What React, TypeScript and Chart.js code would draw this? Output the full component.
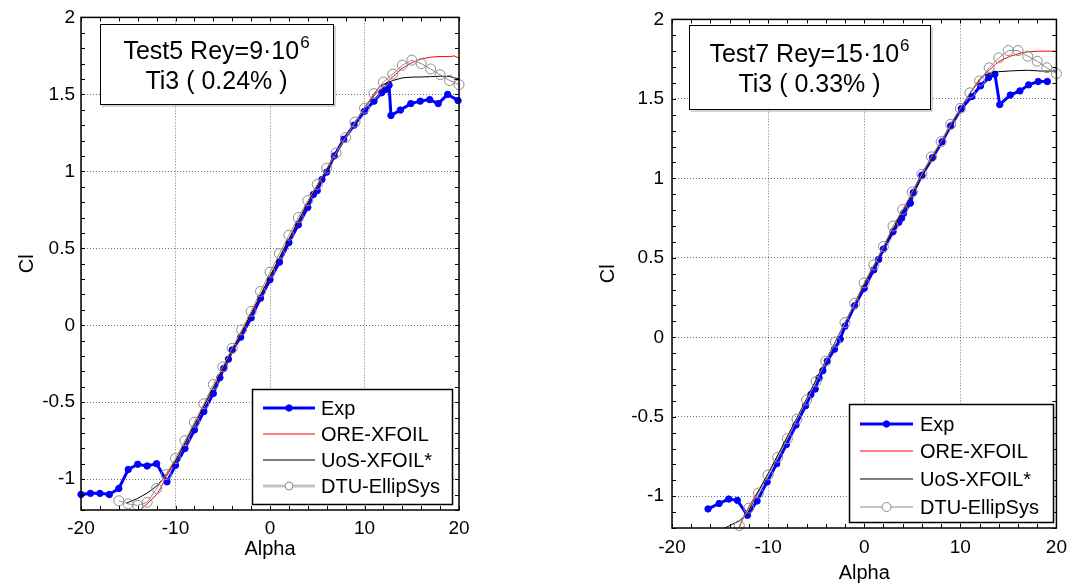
import React, { useEffect, useRef } from 'react';
import { Chart, registerables } from 'chart.js';

Chart.register(...registerables);

const FONT = '"Liberation Sans", Arial, Helvetica, sans-serif';

// ---------- Data: Test5 (Rey = 9e6, Ti3 0.24%) ----------
const t5ExpAlpha = [-20, -19, -18, -17, -16, -15, -14, -13, -12, -10.9, -10, -9, -8, -7, -6, -5.3, -4.9, -4.4, -4, -3.1, -2, -1, 0, 1, 2, 3, 4, 4.6, 5, 5.5, 6, 6.8, 7.8, 8.9, 10, 11, 11.8, 12.2, 12.6, 12.8, 13.8, 14.9, 15.9, 16.9, 17.8, 18.8, 19.9];
const t5ExpCl = [-1.099, -1.092, -1.092, -1.099, -1.06, -0.937, -0.903, -0.914, -0.899, -1.017, -0.91, -0.8, -0.68, -0.56, -0.443, -0.34, -0.28, -0.22, -0.16, -0.077, 0.048, 0.176, 0.296, 0.41, 0.537, 0.653, 0.766, 0.85, 0.875, 0.947, 0.995, 1.1, 1.208, 1.3, 1.39, 1.456, 1.51, 1.53, 1.56, 1.363, 1.398, 1.44, 1.456, 1.466, 1.44, 1.5, 1.46];

const t5OreAlpha = [-14, -13, -12, -11.5, -11, -10, -9, -8, -7, -6, -5, -4, -3, -2, -1, 0, 1, 2, 3, 4, 5, 6, 7, 8, 9, 10, 11, 12, 13, 14, 15, 16, 17, 18, 19, 19.5, 20];
const t5OreCl = [-1.215, -1.16, -1.1, -1.05, -0.985, -0.885, -0.77, -0.65, -0.53, -0.41, -0.29, -0.17, -0.05, 0.07, 0.19, 0.315, 0.435, 0.555, 0.675, 0.79, 0.9, 1.005, 1.11, 1.215, 1.315, 1.41, 1.49, 1.555, 1.615, 1.67, 1.705, 1.73, 1.742, 1.746, 1.745, 1.75, 1.735];

const t5UosAlpha = [-15.2, -14, -13, -12, -11.3, -10, -9, -8, -7, -6, -5, -4, -3, -2, -1, 0, 1, 2, 3, 4, 5, 6, 7, 8, 9, 10, 11, 11.6, 12, 13, 14, 15, 16, 17, 18, 19, 20];
const t5UosCl = [-1.155, -1.125, -1.09, -1.045, -0.996, -0.88, -0.765, -0.645, -0.525, -0.405, -0.285, -0.165, -0.045, 0.075, 0.195, 0.32, 0.44, 0.56, 0.68, 0.795, 0.905, 1.01, 1.115, 1.22, 1.32, 1.415, 1.5, 1.55, 1.565, 1.59, 1.607, 1.612, 1.613, 1.615, 1.618, 1.616, 1.6];

const t5DtuAlpha = [-16, -15, -14, -13, -12, -11, -10, -9, -8, -7, -6, -5, -4, -3, -2, -1, 0, 1, 2, 3, 4, 5, 6, 7, 8, 9, 10, 11, 12, 13, 14, 15, 16, 17, 18, 19, 20];
const t5DtuCl = [-1.14, -1.16, -1.17, -1.15, -1.06, -0.97, -0.865, -0.75, -0.63, -0.51, -0.385, -0.27, -0.15, -0.03, 0.09, 0.22, 0.345, 0.465, 0.585, 0.7, 0.81, 0.915, 1.02, 1.12, 1.22, 1.32, 1.41, 1.505, 1.58, 1.632, 1.69, 1.722, 1.7, 1.665, 1.628, 1.59, 1.563];

// ---------- Data: Test7 (Rey = 15e6, Ti3 0.33%) ----------
const t7ExpAlpha = [-16.25, -15.1, -14.1, -13.2, -12.15, -11.15, -10.1, -9.1, -8.1, -7.1, -6.1, -5.55, -5.1, -4.7, -4.3, -3.85, -3.1, -2.5, -2, -1, 0, 1, 1.5, 2, 3, 3.6, 3.9, 4.1, 4.8, 5.1, 6, 7.1, 8.1, 9, 10.1, 11.2, 12.1, 12.95, 13.6, 14.1, 15.2, 16.2, 17.1, 18.1, 19.05];
const t7ExpCl = [-1.08, -1.046, -1.018, -1.026, -1.12, -1.03, -0.91, -0.795, -0.675, -0.552, -0.431, -0.36, -0.326, -0.256, -0.21, -0.15, -0.075, -0.012, 0.07, 0.198, 0.308, 0.424, 0.49, 0.555, 0.664, 0.723, 0.75, 0.78, 0.844, 0.91, 1.02, 1.13, 1.23, 1.33, 1.438, 1.515, 1.582, 1.634, 1.655, 1.464, 1.524, 1.55, 1.588, 1.609, 1.609];

const t7OreAlpha = [-13.2, -12.5, -12, -11, -10, -9, -8, -7, -6, -5, -4, -3, -2, -1, 0, 1, 2, 3, 4, 5, 6, 7, 8, 9, 10, 11, 12, 13, 13.65, 14, 15.2, 16.4, 17, 18, 19, 20];
const t7OreCl = [-1.225, -1.125, -1.065, -0.965, -0.86, -0.745, -0.628, -0.51, -0.39, -0.27, -0.15, -0.03, 0.09, 0.21, 0.33, 0.447, 0.563, 0.678, 0.79, 0.9, 1.01, 1.12, 1.225, 1.33, 1.435, 1.535, 1.625, 1.68, 1.717, 1.735, 1.768, 1.79, 1.795, 1.8, 1.8, 1.8];

const t7UosAlpha = [-15, -14, -13, -12.2, -11, -10, -9, -8, -7, -6, -5, -4, -3, -2, -1, 0, 1, 2, 3, 4, 5, 6, 7, 8, 9, 10, 11, 12, 12.5, 13.6, 15, 16, 17, 18.4, 20];
const t7UosCl = [-1.215, -1.185, -1.155, -1.115, -0.968, -0.858, -0.742, -0.625, -0.507, -0.387, -0.267, -0.147, -0.027, 0.093, 0.213, 0.335, 0.45, 0.566, 0.68, 0.793, 0.903, 1.013, 1.122, 1.228, 1.333, 1.437, 1.535, 1.615, 1.65, 1.669, 1.675, 1.678, 1.68, 1.675, 1.675];

const t7DtuAlpha = [-13, -12, -11, -10, -9, -8, -7, -6, -5, -4, -3, -2, -1, 0, 1, 2, 3, 4, 5, 6, 7, 8, 9, 10, 11, 12, 13, 14, 15, 16, 17, 18, 19, 20];
const t7DtuCl = [-1.185, -1.075, -0.98, -0.866, -0.755, -0.638, -0.515, -0.395, -0.278, -0.15, -0.03, 0.093, 0.214, 0.343, 0.455, 0.571, 0.7, 0.804, 0.914, 1.026, 1.135, 1.231, 1.34, 1.44, 1.538, 1.613, 1.696, 1.758, 1.804, 1.804, 1.769, 1.737, 1.696, 1.659];

// ---------- Axes ----------
const xTicks = [-20, -10, 0, 10, 20];
const yTicks = [-1, -0.5, 0, 0.5, 1, 1.5, 2];
const X_MIN = -20, X_MAX = 20, X_MINOR = 2;
const Y_MIN = -1.2, Y_MAX = 2, Y_MINOR = 0.1;
const seriesNames = ['Exp', 'ORE-XFOIL', 'UoS-XFOIL*', 'DTU-EllipSys'];

const zip = (a: number[], c: number[]) => a.map((x, i) => ({ x, y: c[i] }));

type Cfg = {
  left: number; width: number; height: number;
  pad: { left: number; right: number; top: number; bottom: number };
  yW: number; xH: number; yTitlePad: number; xTitlePad: number; xTickPad: number; yTickPad: number;
  series: { a: number[]; c: number[] }[];
  box: { x: number; y: number; w: number; h: number; line1: string; sup: string; line2: string; l1y: number; l2y: number };
  legend: { x: number; y: number; w: number; h: number; rows: number[]; x0: number; x1: number; tx: number; dtuColor: string; dtuWidth: number; dtuR: number };
};

const leftCfg: Cfg = {
  left: 0, width: 540, height: 585,
  pad: { left: 0, right: 81, top: 14, bottom: 0 },
  yW: 81, xH: 75, yTitlePad: 15, xTitlePad: 24, xTickPad: 7, yTickPad: 6,
  series: [
    { a: t5ExpAlpha, c: t5ExpCl },
    { a: t5OreAlpha, c: t5OreCl },
    { a: t5UosAlpha, c: t5UosCl },
    { a: t5DtuAlpha, c: t5DtuCl },
  ],
  box: { x: 100, y: 24, w: 233, h: 80, line1: 'Test5 Rey=9\u00B710', sup: '6', line2: 'Ti3 ( 0.24% )', l1y: 52, l2y: 82 },
  legend: { x: 252, y: 389, w: 200, h: 115, rows: [408, 434, 460, 486], x0: 263, x1: 315, tx: 321, dtuColor: '#c4c4c4', dtuWidth: 3, dtuR: 4 },
};

const rightCfg: Cfg = {
  left: 540, width: 535, height: 585,
  pad: { left: 50, right: 13, top: 14, bottom: 0 },
  yW: 82, xH: 57, yTitlePad: 6, xTitlePad: 0, xTickPad: 8, yTickPad: 8,
  series: [
    { a: t7ExpAlpha, c: t7ExpCl },
    { a: t7OreAlpha, c: t7OreCl },
    { a: t7UosAlpha, c: t7UosCl },
    { a: t7DtuAlpha, c: t7DtuCl },
  ],
  box: { x: 149, y: 25, w: 241, h: 84, line1: 'Test7 Rey=15\u00B710', sup: '6', line2: 'Ti3 ( 0.33% )', l1y: 55, l2y: 85 },
  legend: { x: 309, y: 404, w: 204, h: 118, rows: [424, 451, 479, 507], x0: 320, x1: 373, tx: 380, dtuColor: '#8c8c8c', dtuWidth: 1, dtuR: 4.5 },
};

const makeDecor = (cfg: Cfg) => ({
  id: 'decor',
  afterDraw(chart: any) {
    const { ctx, chartArea: ca } = chart;
    const xs = chart.scales.x, ys = chart.scales.y;
    const TL = 4;
    ctx.save();
    // minor / major tick marks (inside, all four sides)
    ctx.beginPath();
    ctx.strokeStyle = '#000';
    ctx.lineWidth = 1;
    for (let k = 0; ; k++) {
      const v = X_MIN + k * X_MINOR;
      if (v > X_MAX + 1e-9) break;
      const px = Math.round(xs.getPixelForValue(v)) + 0.5;
      ctx.moveTo(px, ca.bottom); ctx.lineTo(px, ca.bottom - TL);
      ctx.moveTo(px, ca.top); ctx.lineTo(px, ca.top + TL);
    }
    for (let k = 0; ; k++) {
      const v = Y_MIN + k * Y_MINOR;
      if (v > Y_MAX + 1e-9) break;
      const py = Math.round(ys.getPixelForValue(v)) + 0.5;
      ctx.moveTo(ca.left, py); ctx.lineTo(ca.left + TL, py);
      ctx.moveTo(ca.right, py); ctx.lineTo(ca.right - TL, py);
    }
    ctx.stroke();
    // frame
    ctx.lineWidth = 1.5;
    ctx.strokeRect(ca.left, ca.top, ca.right - ca.left, ca.bottom - ca.top);

    // annotation box
    const b = cfg.box;
    ctx.fillStyle = '#fff';
    ctx.fillRect(b.x, b.y, b.w, b.h);
    ctx.lineWidth = 1;
    ctx.strokeStyle = '#000';
    ctx.strokeRect(b.x + 0.5, b.y + 0.5, b.w, b.h);
    ctx.strokeStyle = 'rgba(0,0,0,0.35)';
    ctx.beginPath();
    ctx.moveTo(b.x + b.w + 2, b.y + 2);
    ctx.lineTo(b.x + b.w + 2, b.y + b.h + 2);
    ctx.lineTo(b.x + 2, b.y + b.h + 2);
    ctx.stroke();
    ctx.fillStyle = '#000';
    ctx.textBaseline = 'middle';
    const big = `25px ${FONT}`, small = `17px ${FONT}`;
    ctx.font = big;
    const w1 = ctx.measureText(b.line1).width;
    ctx.font = small;
    const ws = ctx.measureText(b.sup).width;
    const cx = b.x + b.w / 2;
    const sx = cx - (w1 + ws + 1) / 2;
    ctx.textAlign = 'left';
    ctx.font = big;
    ctx.fillText(b.line1, sx, b.l1y);
    ctx.font = small;
    ctx.fillText(b.sup, sx + w1 + 1, b.l1y - 9);
    ctx.font = big;
    ctx.textAlign = 'center';
    ctx.fillText(b.line2, cx, b.l2y);

    // legend
    const L = cfg.legend;
    ctx.fillStyle = '#fff';
    ctx.fillRect(L.x, L.y, L.w, L.h);
    ctx.strokeStyle = '#000';
    ctx.lineWidth = 1.5;
    ctx.strokeRect(L.x + 0.5, L.y + 0.5, L.w, L.h);
    chart.data.datasets.forEach((ds: any, i: number) => {
      const ry = L.rows[i];
      const isDtu = i === 3;
      const col = isDtu ? L.dtuColor : ds.borderColor;
      const lw = isDtu ? L.dtuWidth : ds.borderWidth;
      ctx.beginPath();
      ctx.strokeStyle = col;
      ctx.lineWidth = lw;
      ctx.moveTo(L.x0, ry);
      ctx.lineTo(L.x1, ry);
      ctx.stroke();
      const r = isDtu ? L.dtuR : ds.pointRadius;
      if (r > 0) {
        const mx = (L.x0 + L.x1) / 2;
        ctx.beginPath();
        ctx.arc(mx, ry, r, 0, Math.PI * 2);
        ctx.fillStyle = isDtu ? '#fff' : ds.pointBackgroundColor;
        ctx.fill();
        ctx.lineWidth = 1;
        ctx.strokeStyle = isDtu ? '#8c8c8c' : ds.pointBorderColor;
        ctx.stroke();
      }
      ctx.fillStyle = '#000';
      ctx.font = `20px ${FONT}`;
      ctx.textAlign = 'left';
      ctx.textBaseline = 'middle';
      ctx.fillText(ds.label, L.tx, ry + 1);
    });
    ctx.restore();
  },
});

function Panel({ cfg }: { cfg: Cfg }) {
  const ref = useRef<HTMLCanvasElement>(null);
  useEffect(() => {
    const s = cfg.series;
    const gridColor = 'rgba(0,0,0,0.55)';
    const chart = new Chart(ref.current as HTMLCanvasElement, {
      type: 'line',
      data: {
        datasets: [
          {
            label: seriesNames[0], data: zip(s[0].a, s[0].c),
            borderColor: '#0000ff', borderWidth: 3, pointRadius: 3.2,
            pointBackgroundColor: '#0000ff', pointBorderColor: '#0000ff', pointBorderWidth: 1,
            tension: 0, order: 4, clip: 8,
          } as any,
          {
            label: seriesNames[1], data: zip(s[1].a, s[1].c),
            borderColor: '#ff0000', borderWidth: 1, pointRadius: 0, tension: 0, order: 3,
          },
          {
            label: seriesNames[2], data: zip(s[2].a, s[2].c),
            borderColor: '#000000', borderWidth: 1, pointRadius: 0, tension: 0, order: 2,
          },
          {
            label: seriesNames[3], data: zip(s[3].a, s[3].c),
            borderColor: '#8c8c8c', borderWidth: 1, pointRadius: 5,
            pointBackgroundColor: 'rgba(0,0,0,0)', pointBorderColor: '#8c8c8c', pointBorderWidth: 1,
            tension: 0, order: 1, clip: 8,
          } as any,
        ],
      },
      options: {
        responsive: false,
        devicePixelRatio: 1,
        animation: false,
        events: [],
        layout: { padding: cfg.pad },
        plugins: { legend: { display: false }, tooltip: { enabled: false } },
        scales: {
          x: {
            type: 'linear', min: X_MIN, max: X_MAX,
            afterBuildTicks: (sc: any) => { sc.ticks = xTicks.map((value) => ({ value })); },
            afterFit: (sc: any) => { sc.height = cfg.xH; },
            ticks: {
              autoSkip: false, maxRotation: 0, padding: cfg.xTickPad, color: '#000',
              font: { family: FONT, size: 19 },
              callback: (v: any) => String(v),
            },
            grid: { color: gridColor, lineWidth: 1, drawTicks: false },
            border: { display: false, dash: [1, 2] },
            title: {
              display: true, text: 'Alpha', color: '#000',
              font: { family: FONT, size: 20 }, padding: { top: 0, bottom: cfg.xTitlePad },
            },
          },
          y: {
            type: 'linear', min: Y_MIN, max: Y_MAX,
            afterBuildTicks: (sc: any) => { sc.ticks = yTicks.map((value) => ({ value })); },
            afterFit: (sc: any) => { sc.width = cfg.yW; },
            ticks: {
              autoSkip: false, padding: cfg.yTickPad, color: '#000',
              font: { family: FONT, size: 19 },
              callback: (v: any) => String(v),
            },
            grid: { color: gridColor, lineWidth: 1, drawTicks: false },
            border: { display: false, dash: [1, 2] },
            title: {
              display: true, text: 'Cl', color: '#000',
              font: { family: FONT, size: 20 }, padding: { top: cfg.yTitlePad, bottom: 0 },
            },
          },
        },
      } as any,
      plugins: [makeDecor(cfg)],
    });
    return () => chart.destroy();
  }, [cfg]);
  return (
    <canvas
      ref={ref}
      width={cfg.width}
      height={cfg.height}
      style={{ position: 'absolute', left: cfg.left, top: 0, width: cfg.width, height: cfg.height }}
    />
  );
}

export default function App() {
  return (
    <div style={{ position: 'absolute', left: 0, top: 0, width: 1075, height: 585, background: '#fff', overflow: 'hidden' }}>
      <Panel cfg={leftCfg} />
      <Panel cfg={rightCfg} />
    </div>
  );
}
